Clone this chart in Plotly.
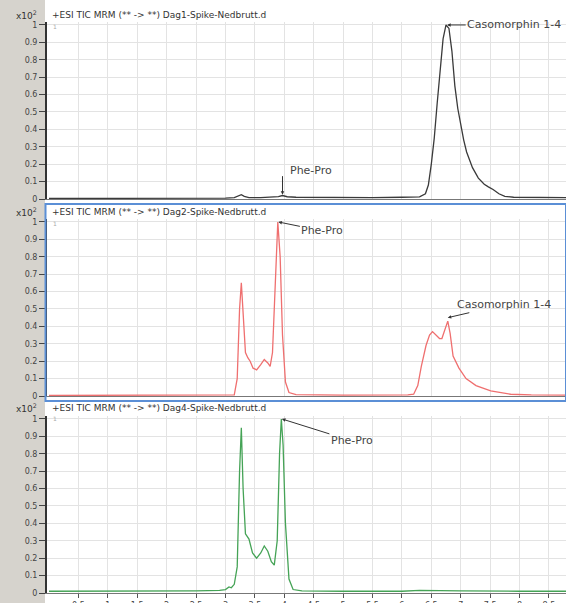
import plotly.graph_objects as go

W, H = 566, 603

# ---------------- data ----------------
x_dag1 = [0.0, 0.5, 1.0, 1.5, 2.0, 2.5, 3.0, 3.15, 3.22, 3.27, 3.32, 3.4, 3.6, 3.8, 3.9, 3.97, 4.05,
          4.2, 4.5, 5.0, 5.5, 6.0, 6.3, 6.4, 6.45, 6.5, 6.55, 6.6, 6.65, 6.7, 6.75, 6.8, 6.85, 6.9,
          6.95, 7.0, 7.05, 7.1, 7.2, 7.3, 7.4, 7.47, 7.55, 7.65, 7.75, 7.9, 8.2, 8.5, 8.8]
y_dag1 = [0.003, 0.003, 0.003, 0.003, 0.004, 0.004, 0.005, 0.008, 0.02, 0.025, 0.015, 0.008, 0.008,
          0.01, 0.014, 0.02, 0.013, 0.01, 0.009, 0.008, 0.008, 0.01, 0.012, 0.03, 0.08, 0.2, 0.35,
          0.55, 0.75, 0.92, 1.0, 0.98, 0.85, 0.65, 0.52, 0.42, 0.34, 0.27, 0.18, 0.12, 0.085, 0.07,
          0.055, 0.03, 0.015, 0.01, 0.008, 0.008, 0.008]

x_dag2 = [0.0, 1.0, 2.0, 3.0, 3.15, 3.2, 3.24, 3.27, 3.3, 3.34, 3.38, 3.42, 3.47, 3.53, 3.6, 3.66,
          3.72, 3.76, 3.8, 3.85, 3.89, 3.93, 3.97, 4.02, 4.08, 4.2, 5.0, 6.1, 6.2, 6.27, 6.33, 6.41,
          6.47, 6.52, 6.58, 6.64, 6.68, 6.73, 6.78, 6.82, 6.87, 6.97, 7.09, 7.26, 7.51, 7.85, 8.2, 8.8]
y_dag2 = [0.003, 0.003, 0.003, 0.004, 0.006, 0.1, 0.5, 0.65, 0.45, 0.25, 0.22, 0.2, 0.16, 0.15,
          0.18, 0.21, 0.19, 0.17, 0.25, 0.7, 1.0, 0.8, 0.35, 0.08, 0.02, 0.008, 0.005, 0.006, 0.01,
          0.06, 0.17, 0.29, 0.35, 0.37, 0.35, 0.33, 0.33, 0.38, 0.43, 0.36, 0.23, 0.16, 0.1, 0.06,
          0.03, 0.01, 0.006, 0.005]

x_dag4 = [0.0, 1.0, 2.0, 2.5, 2.9, 3.0, 3.06, 3.1, 3.15, 3.2, 3.24, 3.27, 3.3, 3.34, 3.4, 3.46,
          3.53, 3.6, 3.66, 3.72, 3.78, 3.83, 3.88, 3.92, 3.95, 3.98, 4.02, 4.08, 4.15, 4.3, 5.0,
          6.0, 6.3, 6.6, 7.0, 8.0, 8.8]
y_dag4 = [0.01, 0.01, 0.012, 0.012, 0.015, 0.02, 0.035, 0.03, 0.05, 0.15, 0.7, 0.95, 0.6, 0.34,
          0.31, 0.23, 0.2, 0.23, 0.27, 0.24, 0.18, 0.16, 0.3, 0.8, 1.0, 0.85, 0.4, 0.08, 0.02,
          0.012, 0.01, 0.01, 0.015, 0.015, 0.012, 0.01, 0.01]

panel_titles = ["+ESI TIC MRM (** -> **) Dag1-Spike-Nedbrutt.d",
                "+ESI TIC MRM (** -> **) Dag2-Spike-Nedbrutt.d",
                "+ESI TIC MRM (** -> **) Dag4-Spike-Nedbrutt.d"]
series_colors = ["#3a3a3a", "#ef6f6f", "#45a356"]

x_tick_vals = [0.5, 1, 1.5, 2, 2.5, 3, 3.5, 4, 4.5, 5, 5.5, 6, 6.5, 7, 7.5, 8, 8.5]
x_tick_text = ["0.5", "1", "1.5", "2", "2.5", "3", "3.5", "4", "4.5", "5", "5.5", "6", "6.5",
               "7", "7.5", "8", "8.5"]
y_tick_vals = [0, 0.1, 0.2, 0.3, 0.4, 0.5, 0.6, 0.7, 0.8, 0.9, 1.0]
y_tick_text = ["0", "0.1", "0.2", "0.3", "0.4", "0.5", "0.6", "0.7", "0.8", "0.9", "1"]

# peak labels: (panel, text, tip x, tip y, text offset px dx, dy)
peak_labels = [
    (1, "Casomorphin 1-4", 6.77, 1.0, 67, 0),
    (2, "Phe-Pro", 3.9, 1.0, 44, 9),
    (2, "Casomorphin 1-4", 6.78, 0.45, 56, -13),
    (3, "Phe-Pro", 3.96, 1.0, 70, 22),
]
# Phe-Pro label in panel 1 with a vertical arrow
phe1_tip = (3.97, 0.025)
phe1_text = (4.45, 0.165)

# ---------------- layout geometry ----------------
def py(p):
    return 1 - p / H

x_dom = [47 / W, 1]
y_doms = [[py(199), py(22)], [py(396), py(219)], [py(593), py(416)]]
header_y = [15, 212, 408]

fig = go.Figure()
xs = [x_dag1, x_dag2, x_dag4]
ys = [y_dag1, y_dag2, y_dag4]
for i in range(3):
    fig.add_trace(go.Scatter(x=xs[i], y=ys[i], mode="lines",
                             line=dict(color=series_colors[i], width=1.3),
                             xaxis="x" if i == 0 else f"x{i+1}",
                             yaxis="y" if i == 0 else f"y{i+1}",
                             hoverinfo="skip", showlegend=False))

font_fam = "DejaVu Sans, Arial, sans-serif"
layout = dict(width=W, height=H, margin=dict(l=0, r=0, t=0, b=0, pad=0, autoexpand=False),
              paper_bgcolor="white", plot_bgcolor="white", showlegend=False,
              font=dict(family=font_fam, size=8, color="#333"))

for i in range(3):
    suf = "" if i == 0 else str(i + 1)
    last = (i == 2)
    layout["xaxis" + suf] = dict(
        domain=x_dom, range=[-0.034, 8.79], anchor="y" + suf, automargin=False,
        tickvals=x_tick_vals, ticktext=x_tick_text, showticklabels=last,
        ticks="outside" if last else "", ticklen=4, tickcolor="#555",
        tickfont=dict(size=8, color="#444"),
        showgrid=True, gridcolor="#e3e3e3", gridwidth=1,
        showline=True, linecolor="#777", linewidth=1, zeroline=False)
    layout["yaxis" + suf] = dict(
        domain=y_doms[i], range=[0, 1.017], anchor="x" + suf, automargin=False,
        tickvals=y_tick_vals, ticktext=y_tick_text, ticks="outside", ticklen=6,
        tickcolor="#444", tickfont=dict(size=8, color="#444"),
        showgrid=True, gridcolor="#e3e3e3", gridwidth=1,
        showline=True, linecolor="#333", linewidth=2, zeroline=False)

shapes = [
    dict(type="rect", xref="paper", yref="paper", x0=0, x1=45 / W, y0=0, y1=1,
         fillcolor="#d6d3cd", line=dict(width=0), layer="below"),
    dict(type="rect", xref="paper", yref="paper", x0=45.5 / W, x1=1, y0=py(401), y1=py(204),
         fillcolor="rgba(0,0,0,0)", line=dict(color="#5b8fd6", width=2)),
]
layout["shapes"] = shapes

ann = []
for i in range(3):
    ann.append(dict(xref="paper", yref="paper", x=14 / W, y=py(header_y[i]),
                    xanchor="left", yanchor="middle", showarrow=False,
                    text="x10<sup>2</sup>", font=dict(size=9, color="#333")))
    ann.append(dict(xref="paper", yref="paper", x=50 / W, y=py(header_y[i]),
                    xanchor="left", yanchor="middle", showarrow=False,
                    text=panel_titles[i], font=dict(size=9, color="#333")))
    ann.append(dict(xref="paper", yref="paper", x=51 / W, y=py(header_y[i] + 11),
                    xanchor="left", yanchor="middle", showarrow=False,
                    text="1", font=dict(size=6, color="#aaa")))

for (p, txt, tx, ty, dx, dy) in peak_labels:
    suf = "" if p == 1 else str(p)
    ann.append(dict(xref="x" + suf, yref="y" + suf, x=tx, y=ty, text=txt,
                    showarrow=True, ax=dx, ay=dy, arrowhead=2, arrowsize=0.7,
                    arrowwidth=1, arrowcolor="#333", standoff=0,
                    font=dict(size=11, color="#444")))
ann.append(dict(xref="x", yref="y", x=phe1_tip[0], y=phe1_tip[1], text="",
                showarrow=True, ax=0, ay=-20, arrowhead=2, arrowsize=0.7,
                arrowwidth=1, arrowcolor="#333"))
ann.append(dict(xref="x", yref="y", x=phe1_text[0], y=phe1_text[1], text="Phe-Pro",
                showarrow=False, font=dict(size=11, color="#444")))
layout["annotations"] = ann

fig.update_layout(**layout)
fig.write_html("out.html", config={"displayModeBar": False},
               post_script="document.body.style.margin='0';document.body.style.overflow='hidden';")
